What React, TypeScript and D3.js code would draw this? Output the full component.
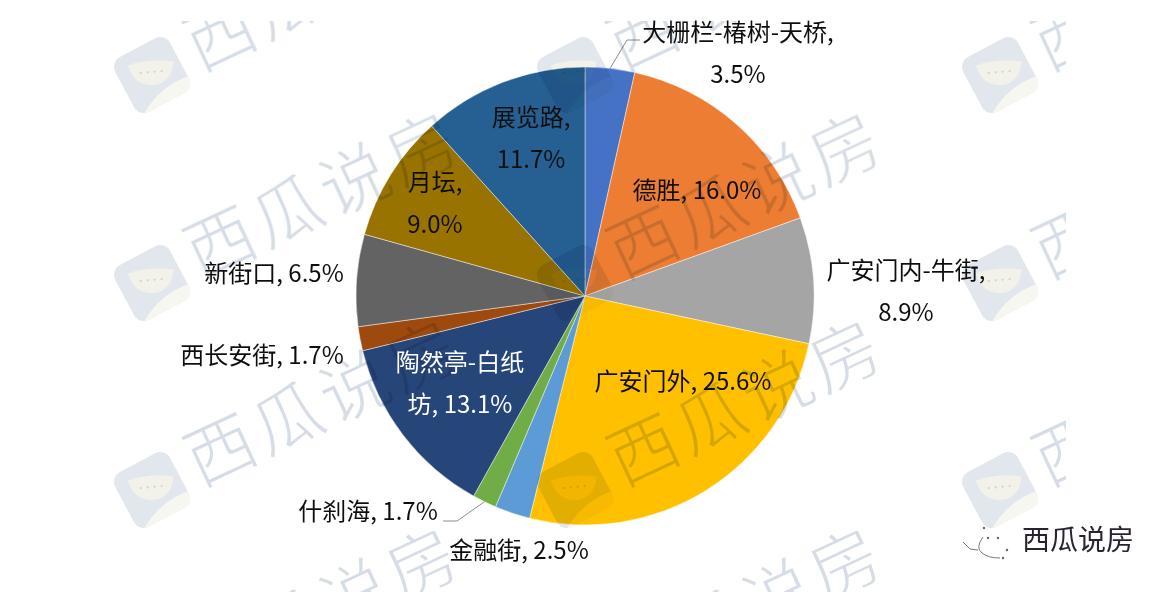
import * as d3 from "d3";

const areas = ["大栅栏-椿树-天桥", "德胜", "广安门内-牛街", "广安门外", "金融街", "什刹海", "陶然亭-白纸坊", "西长安街", "新街口", "月坛", "展览路"];
const shares = [3.5, 16.0, 8.9, 25.6, 2.5, 1.7, 13.1, 1.7, 6.5, 9.0, 11.7];
const colors = ["#4472c4", "#ed7d31", "#a5a5a5", "#ffc000", "#5b9bd5", "#70ad47", "#264478", "#9e480e", "#636363", "#997300", "#255e91"];

// label lines as wrapped in the original, and where each block sits
const labelLines = [
  ["大栅栏-椿树-天桥,", "3.5%"],
  ["德胜, 16.0%"],
  ["广安门内-牛街,", "8.9%"],
  ["广安门外, 25.6%"],
  ["金融街, 2.5%"],
  ["什刹海, 1.7%"],
  ["陶然亭-白纸", "坊, 13.1%"],
  ["西长安街, 1.7%"],
  ["新街口, 6.5%"],
  ["月坛,", "9.0%"],
  ["展览路,", "11.7%"],
];
const labelX = [738, 697, 906, 683, 519, 368, 460, 262, 274, 435, 531];
const labelY = [41, 199, 279, 390, 559, 520, 371, 364, 282, 191, 126];

const tileX = [152, 575, 1000];
const tileY = [75, 283, 490, 698];
const seeds = [-11, -4, 3, 10];

const width = 1170;
const height = 592;
const cx = 585;
const cy = 296;
const radius = 229;

const pie = d3.pie<number>().sort(null).value((d) => d);
const arc = d3.arc<d3.PieArcDatum<number>>().innerRadius(0).outerRadius(radius);
const edge = d3.arc<any>().innerRadius(radius).outerRadius(radius);
const slices = pie(shares);

const leader = d3.line();

const Watermark = ({ x, y }: { x: number; y: number }) => (
  <g transform={`translate(${x},${y})`}>
    <g transform="rotate(-28)">
      <rect x={-31} y={-31} width={62} height={62} rx={11} fill="#e2e7ee" />
      <path d="M-26,31 Q0,14 31,18 L31,22 Q30,31 20,31 Z" fill="#f7f7f2" />
    </g>
    <g transform="rotate(-6)">
      <path d="M-23,-12 Q0,-17 23,-11 Q18,11 -1,10 Q-19,8 -23,-12 Z" fill="#f3f2ea" />
      {seeds.map((s) => <circle key={s} cx={s} cy={-3} r={1.1} fill="#d4d3c4" />)}
    </g>
    <g transform="rotate(-25)">
      <text x={44} y={18} fontFamily="'Noto Sans CJK SC'" fontSize={70} letterSpacing={4} fill="#d6dde6" stroke="#fff" strokeWidth={1.7}>西瓜说房</text>
    </g>
  </g>
);

const App = () => {
  const tiles = d3.cross(tileX, tileY);
  const topEdge = edge.centroid(slices[0]);
  const lowEdge = edge.centroid(slices[5]);
  return (
    <svg width={width} height={height} style={{ position: "absolute", left: 0, top: 0, background: "#fff" }}>
      <defs>
        <clipPath id="page"><rect x={0} y={21} width={1066} height={571} /></clipPath>
        <filter id="soft" x="0" y="0" width="100%" height="100%"><feGaussianBlur stdDeviation={0.45} /></filter>
      </defs>
      <g filter="url(#soft)">
        <rect width={width} height={height} fill="#fff" />
        <g transform={`translate(${cx},${cy})`}>
          {slices.map((s, i) => (
            <path key={areas[i]} d={arc(s) as string} fill={colors[i]} stroke="#fff" strokeOpacity={0.45} strokeWidth={1} />
          ))}
          <path d={leader([[topEdge[0], topEdge[1]], [42, -256], [55, -256]]) as string} fill="none" stroke="#8c8c8c" />
          <path d={leader([[lowEdge[0], lowEdge[1]], [-128, 225], [-142, 225]]) as string} fill="none" stroke="#8c8c8c" />
        </g>
        <g clipPath="url(#page)" style={{ mixBlendMode: "multiply", isolation: "isolate" }}>
          {tiles.map(([x, y]) => <Watermark key={`${x}-${y}`} x={x} y={y} />)}
        </g>
        {labelLines.map((lines, i) => (
          <text key={areas[i]} textAnchor="middle" fontFamily="'Noto Sans CJK SC'" fontSize={24} fill={i === 6 ? "#fff" : "#111"}>
            {lines.map((line, k) => (
              <tspan key={line} x={labelX[i]} y={labelY[i] + k * 42}>{line}</tspan>
            ))}
          </text>
        ))}
        <g fill="none" stroke="#666" strokeWidth={0.9}>
          <path d="M983,537 Q975,548 982,553 Q988,558 1000,558" />
          <path d="M963,542 L970,549 L978,550" />
        </g>
        <g fill="#666">
          <circle cx={984} cy={528} r={1.2} />
          <circle cx={988} cy={538} r={1.2} />
          <circle cx={998} cy={538} r={1.2} />
          <circle cx={1007} cy={550} r={1.2} />
          <circle cx={1003} cy={558} r={1.2} />
        </g>
        <text x={1022} y={550} fontFamily="'Noto Sans CJK SC'" fontSize={28} fill="#2c2233">西瓜说房</text>
      </g>
    </svg>
  );
};

export default App;
